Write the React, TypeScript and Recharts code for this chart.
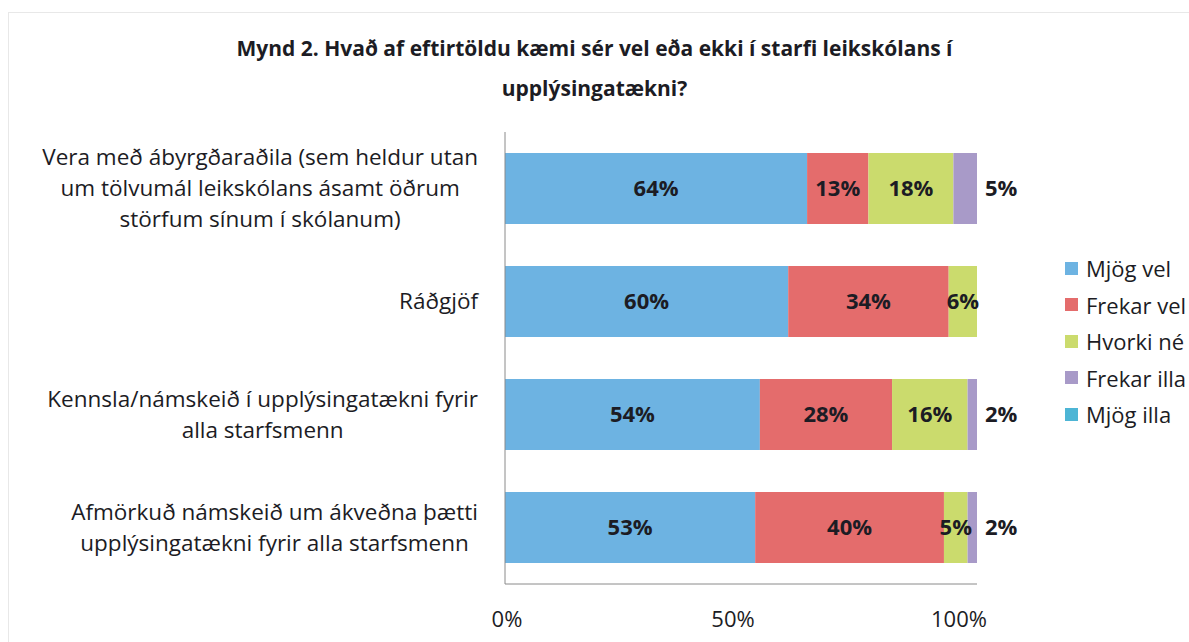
import React from "react"
import { BarChart, Bar, XAxis, YAxis, LabelList, Legend } from "recharts"

const categories = [
  "Vera með ábyrgðaraðila (sem heldur utan\num tölvumál leikskólans ásamt öðrum\nstörfum sínum í skólanum)",
  "Ráðgjöf",
  "Kennsla/námskeið í upplýsingatækni fyrir\nalla starfsmenn",
  "Afmörkuð námskeið um ákveðna þætti\nupplýsingatækni fyrir alla starfsmenn",
]
const mjogVel = [64, 60, 54, 53]
const frekarVel = [13, 34, 28, 40]
const hvorkiNe = [18, 6, 16, 5]
const frekarIlla = [5, 0, 2, 2]
const mjogIlla = [0, 0, 0, 0]
const xTicks = [0, 50, 100]

const series = [
  { key: "mjogVel", name: "Mjög vel", color: "#6db3e2" },
  { key: "frekarVel", name: "Frekar vel", color: "#e46c6c" },
  { key: "hvorkiNe", name: "Hvorki né", color: "#cbdb6d" },
  { key: "frekarIlla", name: "Frekar illa", color: "#a89ac8" },
  { key: "mjogIlla", name: "Mjög illa", color: "#4db5d5" },
]

const data = categories.map((name, i) => ({
  name,
  mjogVel: mjogVel[i],
  frekarVel: frekarVel[i],
  hvorkiNe: hvorkiNe[i],
  frekarIlla: frekarIlla[i],
  mjogIlla: mjogIlla[i],
}))

const FONT = "'Open Sans', sans-serif"
const TEXT = "#1c1c24"

let ctx: CanvasRenderingContext2D | null = null
function textWidth(s: string, font: string) {
  if (!ctx) ctx = document.createElement("canvas").getContext("2d")
  if (!ctx) return s.length * 11
  ctx.font = font
  return ctx.measureText(s).width
}

function CategoryTick({ x, y, payload }: any) {
  const lines = String(payload.value).split("\n")
  const w = Math.max(...lines.map((l) => textWidth(l, "22.5px 'Open Sans'")))
  const cx = x - 27 - w / 2
  const lh = 31
  const y0 = y - ((lines.length - 1) * lh) / 2
  return (
    <text textAnchor="middle" fontFamily={FONT} fontSize={22.5} fill={TEXT}>
      {lines.map((l, i) => (
        <tspan key={i} x={cx} y={y0 + i * lh} dy="0.35em">
          {l}
        </tspan>
      ))}
    </text>
  )
}

function PercentTick({ x, y, payload }: any) {
  // labels in the source sit a little left of their gridline positions
  const dx = 2 - payload.value * 0.2
  return (
    <text x={x + dx} y={y + 35} dy="0.35em" textAnchor="middle" fontFamily={FONT} fontSize={22} fill={TEXT}>
      {payload.value}%
    </text>
  )
}

function LegendBox({ payload }: any) {
  const items = series
    .map((s) => (payload || []).find((p: any) => p.value === s.name))
    .filter(Boolean)
  return (
    <div style={{ fontFamily: FONT, fontSize: 22, color: TEXT }}>
      {items.map((p: any) => (
        <div key={p.value} style={{ display: "flex", alignItems: "center", height: 36.5, whiteSpace: "nowrap" }}>
          <span style={{ width: 13, height: 13, background: p.color, marginRight: 8, display: "inline-block" }} />
          <span>{p.value}</span>
        </div>
      ))}
    </div>
  )
}

const pct = (v: any) => (v > 0 ? `${v}%` : "")

export default function App() {
  return (
    <div style={{ position: "absolute", left: 0, top: 0, width: 1189, height: 642, background: "#fff", overflow: "hidden" }}>
      <div
        style={{
          position: "absolute",
          left: 8,
          top: 12,
          width: 1200,
          height: 660,
          border: "1px solid #e8e8e8",
        }}
      />
      <div
        style={{
          position: "absolute",
          top: 28,
          left: 0,
          width: 1189,
          textAlign: "center",
          fontFamily: FONT,
          fontWeight: 700,
          fontSize: 21,
          lineHeight: "40px",
          color: TEXT,
        }}
      >
        Mynd 2. Hvað af eftirtöldu kæmi sér vel eða ekki í starfi leikskólans í
        <br />
        upplýsingatækni?
      </div>
      <BarChart
        width={1189}
        height={642}
        data={data}
        layout="vertical"
        margin={{ top: 132, right: 212, bottom: 0, left: 0 }}
      >
        <XAxis
          type="number"
          domain={[0, 100]}
          ticks={xTicks}
          height={58}
          tickLine={false}
          tickSize={0}
          tickMargin={0}
          axisLine={{ stroke: "#8a8a8a" }}
          tick={<PercentTick />}
        />
        <YAxis
          type="category"
          dataKey="name"
          width={505}
          tickLine={false}
          tickSize={0}
          tickMargin={0}
          axisLine={{ stroke: "#8a8a8a" }}
          tick={<CategoryTick />}
          interval={0}
        />
        <Legend
          layout="vertical"
          align="center"
          verticalAlign="middle"
          wrapperStyle={{ left: 1065, top: 250, width: "auto" }}
          content={<LegendBox />}
        />
        {series.map((s) => (
          <Bar key={s.key} dataKey={s.key} name={s.name} stackId="a" fill={s.color} barSize={71} isAnimationActive={false}>
            <LabelList
              dataKey={s.key}
              position={s.key === "frekarIlla" ? "right" : "center"}
              offset={8}
              formatter={pct}
              fill={TEXT}
              fontFamily={FONT}
              fontWeight={700}
              fontSize={22}
            />
          </Bar>
        ))}
      </BarChart>
    </div>
  )
}
